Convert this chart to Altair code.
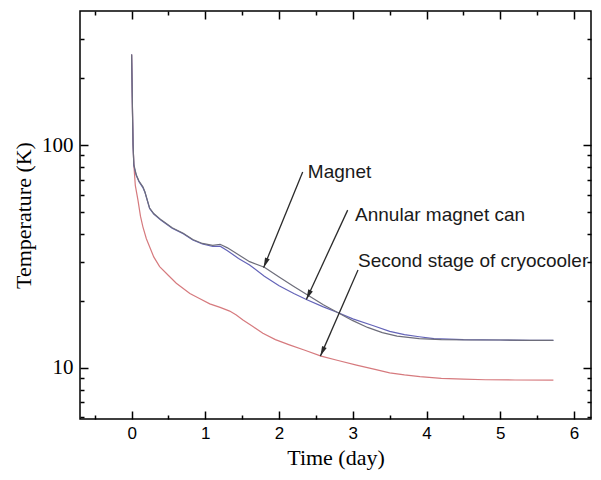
import math
import altair as alt
import pandas as pd

# ---------------- data ----------------
magnet_t = [0, 0.005, 0.012, 0.02, 0.03, 0.045, 0.064, 0.1, 0.153, 0.18, 0.244, 0.3, 0.4,
            0.55, 0.7, 0.83, 0.96, 1.1, 1.2, 1.3, 1.45, 1.6, 1.8, 2.0, 2.2, 2.37, 2.6, 2.8,
            3.0, 3.2, 3.4, 3.6, 3.9, 4.2, 4.6, 5.0, 5.4, 5.72]
magnet_T = [255, 200, 140, 100, 82, 78, 73.4, 69, 65, 61.8, 52.2, 49.3, 46.2,
            42.6, 40.2, 37.7, 36.2, 35.5, 35.9, 34.6, 32.2, 30.0, 28.3, 25.6, 23.2, 21.4, 19.2, 17.7,
            16.3, 15.2, 14.4, 13.9, 13.55, 13.4, 13.35, 13.35, 13.3, 13.3]

can_t = [0, 0.005, 0.012, 0.02, 0.03, 0.045, 0.064, 0.1, 0.153, 0.18, 0.244, 0.3, 0.4,
         0.55, 0.7, 0.83, 0.96, 1.1, 1.2, 1.3, 1.45, 1.6, 1.8, 2.0, 2.2, 2.37, 2.6, 2.82,
         3.0, 3.27, 3.5, 3.7, 3.9, 4.1, 4.5, 5.0, 5.4, 5.72]
can_T = [255, 200, 140, 100, 81, 77, 73, 68.5, 64.5, 61.5, 52, 49, 46,
         42.4, 40, 37.5, 36.0, 35.1, 35.2, 33.6, 31.0, 29.0, 25.8, 23.4, 21.6, 20.3, 18.8, 17.6,
         16.6, 15.5, 14.6, 14.1, 13.8, 13.55, 13.4, 13.35, 13.3, 13.3]

cooler_t = [0, 0.005, 0.012, 0.02, 0.03, 0.05, 0.086, 0.12, 0.153, 0.2, 0.244, 0.3, 0.38,
            0.5, 0.606, 0.79, 0.92, 1.06, 1.2, 1.33, 1.42, 1.51, 1.65, 1.78, 1.95, 2.14,
            2.35, 2.57, 2.8, 3.05, 3.3, 3.5, 3.7, 3.91, 4.2, 4.5, 4.8, 5.2, 5.72]
cooler_T = [255, 200, 140, 100, 82, 66, 56.7, 48, 43, 38, 35, 31.5, 28.5,
            26, 24, 21.6, 20.5, 19.4, 18.7, 18.0, 17.3, 16.4, 15.3, 14.3, 13.4, 12.7,
            12.0, 11.3, 10.8, 10.3, 9.85, 9.5, 9.3, 9.14, 8.98, 8.9, 8.85, 8.83, 8.82]

series_names = ["Magnet", "Annular magnet can", "Second stage of cryocooler"]
series_colors = ["#6d6d7a", "#6464b8", "#d67a7e"]

label_x = [2.39, 3.03, 3.07]
label_y = [75.7, 48.5, 30.3]

arrow_x0 = [2.32, 2.93, 3.07]
arrow_y0 = [75.7, 51.1, 27.5]
arrow_x1 = [1.79, 2.37, 2.56]
arrow_y1 = [28.2, 20.3, 11.3]

x_label_values = [0, 1, 2, 3, 4, 5, 6]
x_tick_values = [-0.5, 0, 0.5, 1, 1.5, 2, 2.5, 3, 3.5, 4, 4.5, 5, 5.5, 6]
y_label_values = [10, 100]
y_tick_values = [6, 7, 8, 9, 10, 20, 30, 40, 50, 60, 70, 80, 90, 100, 200, 300]

# ---------------- layout ----------------
W, H = 511, 408
X_DOMAIN = [-0.7, 6.23]
Y_DOMAIN = [5.9, 400]


def px(x):
    return (x - X_DOMAIN[0]) / (X_DOMAIN[1] - X_DOMAIN[0]) * W


def py(y):
    lo, hi = math.log10(Y_DOMAIN[0]), math.log10(Y_DOMAIN[1])
    return H - (math.log10(y) - lo) / (hi - lo) * H


arrow_angle = [
    math.degrees(math.atan2(-(px(b) - px(a)), py(d) - py(c))) % 360
    for a, c, b, d in zip(arrow_x0, arrow_y0, arrow_x1, arrow_y1)
]

rows = []
for name, ts, Ts in [(series_names[2], cooler_t, cooler_T),
                     (series_names[1], can_t, can_T),
                     (series_names[0], magnet_t, magnet_T)]:
    for i, (t, T) in enumerate(zip(ts, Ts)):
        rows.append({"series": name, "t": t, "T": T, "i": i})
df = pd.DataFrame(rows)

ann = pd.DataFrame({
    "label": series_names, "lx": label_x, "ly": label_y,
    "x0": arrow_x0, "y0": arrow_y0, "x1": arrow_x1, "y1": arrow_y1,
    "angle": arrow_angle,
})

xs = alt.Scale(domain=X_DOMAIN, nice=False, zero=False)
ys = alt.Scale(type="log", domain=Y_DOMAIN, nice=False)

# negative tick sizes draw the ticks inward (into the plot)
x_in = alt.ExprRef(expr="datum.value % 1 === 0 ? -8 : -4")
y_in = alt.ExprRef(expr="(datum.value === 10 || datum.value === 100) ? -8 : -4")

axis_x_main = alt.Axis(orient="bottom", values=x_label_values, ticks=False, domain=False, grid=False,
                       labelFont="Liberation Sans", labelFontSize=17, labelPadding=6, labelColor="black",
                       format="d", title="Time (day)", titleFont="Liberation Serif", titleFontSize=22,
                       titleFontWeight="normal", titleColor="black", titlePadding=6)
axis_y_main = alt.Axis(orient="left", values=y_label_values, ticks=False, domain=False, grid=False,
                       labelFont="Liberation Serif", labelFontSize=21, labelPadding=7, labelColor="black",
                       format="d", title="Temperature (K)", titleFont="Liberation Serif", titleFontSize=22,
                       titleFontWeight="normal", titleColor="black", titlePadding=6)

axis_x_ticks_bottom = alt.Axis(orient="bottom", values=x_tick_values, labels=False, domain=False,
                               grid=False, tickSize=x_in, tickColor="black", tickWidth=1.5, title=None)
axis_x_ticks_top = alt.Axis(orient="top", values=x_tick_values, labels=False, domain=False,
                            grid=False, tickSize=x_in, tickColor="black", tickWidth=1.5, title=None)
axis_y_ticks_left = alt.Axis(orient="left", values=y_tick_values, labels=False, domain=False,
                             grid=False, tickSize=y_in, tickColor="black", tickWidth=1.5, title=None)
axis_y_ticks_right = alt.Axis(orient="right", values=y_tick_values, labels=False, domain=False,
                              grid=False, tickSize=y_in, tickColor="black", tickWidth=1.5, title=None)

lines = alt.Chart(df).mark_line(strokeWidth=1.2).encode(
    x=alt.X("t:Q", scale=xs, axis=axis_x_main),
    y=alt.Y("T:Q", scale=ys, axis=axis_y_main),
    color=alt.Color("series:N", scale=alt.Scale(domain=series_names, range=series_colors), legend=None),
    detail="series:N",
    order="i:Q",
)

arrows = alt.Chart(ann).mark_rule(color="#2a2a2a", strokeWidth=1.3).encode(
    x=alt.X("x0:Q", scale=xs, axis=axis_x_ticks_bottom),
    y=alt.Y("y0:Q", scale=ys, axis=axis_y_ticks_left),
    x2="x1:Q",
    y2="y1:Q",
)

heads = alt.Chart(ann).mark_point(
    shape="M0,0L-1,-4L1,-4Z", filled=True, size=25, color="#2a2a2a", opacity=1
).encode(
    x=alt.X("x1:Q", scale=xs, axis=axis_x_ticks_top),
    y=alt.Y("y1:Q", scale=ys, axis=axis_y_ticks_right),
    angle=alt.Angle("angle:Q", scale=None),
)

labels = alt.Chart(ann).mark_text(
    align="left", baseline="middle", font="Liberation Sans", fontSize=19, color="#1a1a1a"
).encode(
    x=alt.X("lx:Q", scale=xs, axis=None),
    y=alt.Y("ly:Q", scale=ys, axis=None),
    text="label:N",
)

chart = (
    alt.layer(lines, arrows, heads, labels)
    .resolve_axis(x="independent", y="independent")
    .properties(
        width=W, height=H,
        padding={"left": 72, "top": 3, "right": 2, "bottom": 53},
        autosize=alt.AutoSizeParams(type="none"),
        background="white",
    )
    .configure_view(stroke="black", strokeWidth=1.5)
)

chart.save("out.html", embed_options={"renderer": "svg", "actions": False})
